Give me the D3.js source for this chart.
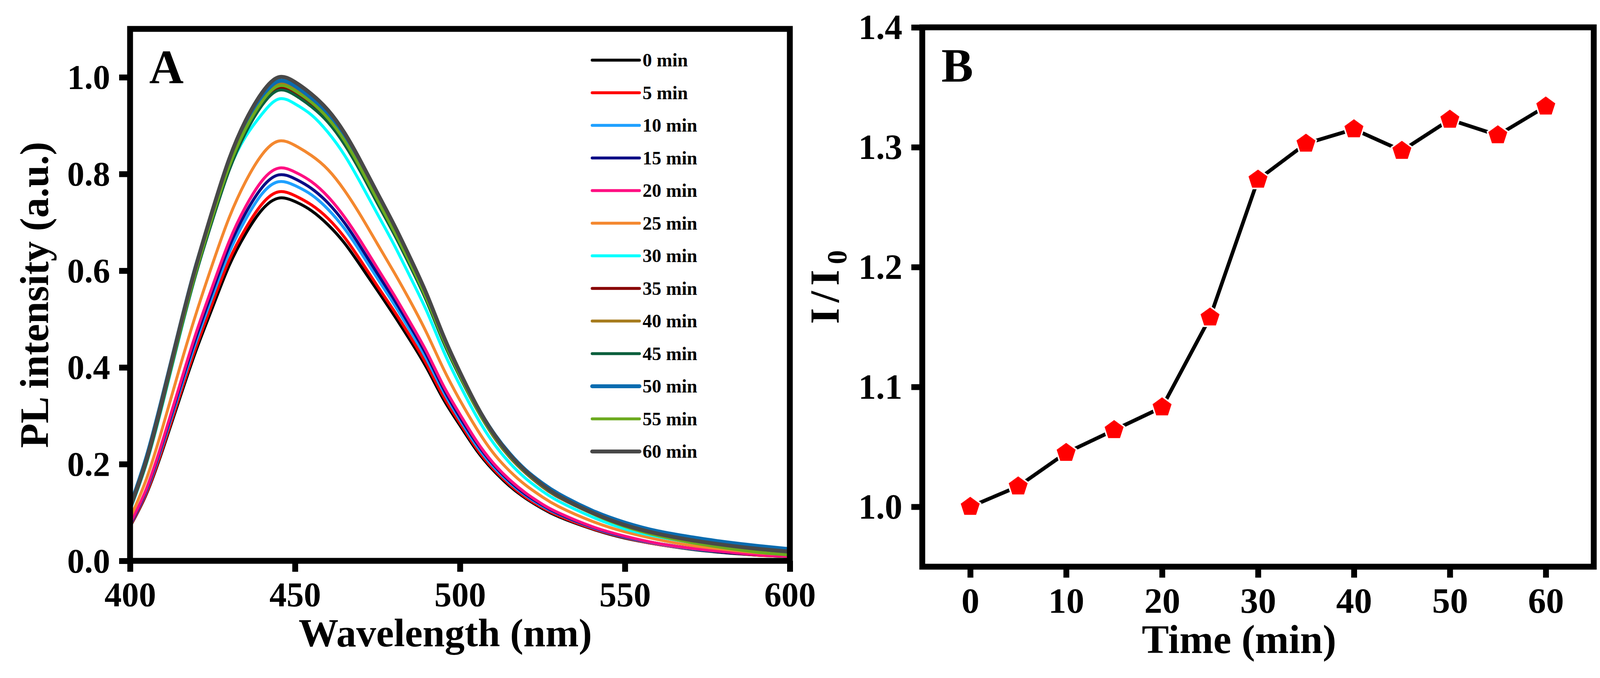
<!DOCTYPE html>
<html>
<head>
<meta charset="utf-8">
<script src="https://cdn.jsdelivr.net/npm/d3@7"></script>
<style>
  body { margin: 0; background: #fff; }
  svg text { font-family: "Liberation Serif", "Times New Roman", serif; font-weight: bold; fill: #000; }
</style>
</head>
<body>
<svg id="fig" width="4136" height="1736"></svg>
<script>
// ---- panel A: PL spectra ----
const wavelengths = [400, 405, 410, 415, 420, 425, 430, 435, 440, 445, 450, 455, 460, 465, 470, 475, 480,
  485, 490, 495, 500, 505, 510, 515, 520, 525, 530, 540, 550, 560, 570, 580, 590, 600];

const pl0 = [0.071, 0.139, 0.232, 0.335, 0.435, 0.524, 0.610, 0.676, 0.726, 0.750, 0.743, 0.724, 0.695, 0.657, 0.609, 0.559, 0.508,
  0.455, 0.398, 0.334, 0.280, 0.229, 0.188, 0.155, 0.129, 0.108, 0.091, 0.066, 0.047, 0.034, 0.024, 0.017, 0.012, 0.009];
const pl5 = [0.072, 0.141, 0.236, 0.341, 0.442, 0.534, 0.621, 0.687, 0.738, 0.763, 0.755, 0.736, 0.708, 0.669, 0.620, 0.568, 0.517,
  0.463, 0.405, 0.340, 0.285, 0.233, 0.191, 0.158, 0.131, 0.110, 0.093, 0.067, 0.048, 0.034, 0.025, 0.018, 0.012, 0.009];
const pl10 = [0.074, 0.145, 0.243, 0.350, 0.454, 0.548, 0.637, 0.706, 0.759, 0.784, 0.776, 0.757, 0.727, 0.687, 0.637, 0.584, 0.531,
  0.475, 0.416, 0.350, 0.292, 0.239, 0.196, 0.162, 0.135, 0.113, 0.096, 0.069, 0.049, 0.035, 0.025, 0.018, 0.013, 0.009];
const pl15 = [0.075, 0.147, 0.247, 0.356, 0.462, 0.558, 0.649, 0.719, 0.772, 0.798, 0.790, 0.770, 0.740, 0.699, 0.648, 0.594, 0.541,
  0.484, 0.424, 0.356, 0.297, 0.244, 0.200, 0.165, 0.137, 0.115, 0.097, 0.070, 0.050, 0.036, 0.026, 0.018, 0.013, 0.009];
const pl20 = [0.077, 0.150, 0.251, 0.362, 0.471, 0.568, 0.660, 0.732, 0.786, 0.812, 0.804, 0.784, 0.753, 0.711, 0.660, 0.605, 0.550,
  0.492, 0.431, 0.362, 0.303, 0.248, 0.203, 0.168, 0.140, 0.117, 0.099, 0.071, 0.051, 0.036, 0.026, 0.019, 0.013, 0.009];
const pl25 = [0.088, 0.170, 0.279, 0.398, 0.511, 0.614, 0.709, 0.784, 0.840, 0.868, 0.859, 0.838, 0.809, 0.766, 0.713, 0.655, 0.597,
  0.536, 0.470, 0.397, 0.332, 0.274, 0.224, 0.186, 0.156, 0.132, 0.112, 0.082, 0.060, 0.044, 0.032, 0.024, 0.017, 0.013];
const pl30 = [0.105, 0.202, 0.328, 0.465, 0.594, 0.706, 0.808, 0.877, 0.924, 0.955, 0.945, 0.922, 0.886, 0.839, 0.780, 0.717, 0.654,
  0.586, 0.515, 0.434, 0.363, 0.299, 0.245, 0.203, 0.170, 0.144, 0.123, 0.091, 0.066, 0.050, 0.038, 0.028, 0.021, 0.016];
const pl35 = [0.107, 0.205, 0.332, 0.469, 0.596, 0.708, 0.811, 0.889, 0.945, 0.977, 0.967, 0.943, 0.911, 0.865, 0.806, 0.743, 0.679,
  0.611, 0.537, 0.454, 0.381, 0.315, 0.259, 0.215, 0.181, 0.153, 0.131, 0.098, 0.072, 0.055, 0.042, 0.032, 0.024, 0.018];
const pl40 = [0.108, 0.207, 0.335, 0.473, 0.601, 0.715, 0.818, 0.897, 0.954, 0.986, 0.976, 0.951, 0.919, 0.873, 0.813, 0.749, 0.685,
  0.616, 0.542, 0.458, 0.385, 0.318, 0.261, 0.217, 0.182, 0.155, 0.132, 0.099, 0.073, 0.055, 0.042, 0.032, 0.024, 0.018];
const pl45 = [0.107, 0.204, 0.331, 0.467, 0.594, 0.705, 0.807, 0.885, 0.942, 0.973, 0.963, 0.939, 0.907, 0.861, 0.803, 0.739, 0.676,
  0.608, 0.535, 0.452, 0.380, 0.315, 0.260, 0.217, 0.184, 0.157, 0.135, 0.102, 0.077, 0.060, 0.048, 0.038, 0.030, 0.024];
const pl50 = [0.113, 0.215, 0.344, 0.481, 0.611, 0.719, 0.823, 0.903, 0.960, 0.992, 0.982, 0.957, 0.925, 0.878, 0.818, 0.754, 0.689,
  0.620, 0.546, 0.461, 0.387, 0.321, 0.266, 0.222, 0.187, 0.160, 0.138, 0.104, 0.079, 0.061, 0.049, 0.039, 0.031, 0.024];
const pl55 = [0.108, 0.206, 0.334, 0.471, 0.599, 0.712, 0.815, 0.893, 0.950, 0.982, 0.972, 0.948, 0.915, 0.869, 0.810, 0.746, 0.682,
  0.614, 0.540, 0.457, 0.383, 0.316, 0.260, 0.216, 0.182, 0.154, 0.132, 0.098, 0.071, 0.052, 0.038, 0.027, 0.018, 0.012];
const pl60 = [0.110, 0.210, 0.340, 0.480, 0.610, 0.725, 0.830, 0.910, 0.968, 1.000, 0.990, 0.965, 0.932, 0.885, 0.825, 0.760, 0.695,
  0.625, 0.550, 0.465, 0.390, 0.322, 0.265, 0.220, 0.185, 0.157, 0.134, 0.100, 0.074, 0.056, 0.043, 0.033, 0.025, 0.019];

const spectra = [pl0, pl5, pl10, pl15, pl20, pl25, pl30, pl35, pl40, pl45, pl50, pl55, pl60];
const legendLabels = ["0 min", "5 min", "10 min", "15 min", "20 min", "25 min", "30 min",
  "35 min", "40 min", "45 min", "50 min", "55 min", "60 min"];
const seriesColors = ["#000000", "#ff0000", "#1ea0ff", "#0b0b85", "#ff0f82", "#f4882f", "#00ffff",
  "#880000", "#a67b1d", "#0b5f3d", "#0a6cb0", "#6caa1e", "#484848"];
const wavelengthTicks = [400, 450, 500, 550, 600];
const intensityTicks = [0.0, 0.2, 0.4, 0.6, 0.8, 1.0];

// ---- panel B: I/I0 vs time ----
const timeMin = [0, 5, 10, 15, 20, 25, 30, 35, 40, 45, 50, 55, 60];
const ratioI = [1.000, 1.017, 1.045, 1.064, 1.083, 1.158, 1.273, 1.303, 1.315, 1.297, 1.323, 1.310, 1.334];
const timeTicks = [0, 10, 20, 30, 40, 50, 60];
const ratioTicks = [1.0, 1.1, 1.2, 1.3, 1.4];

const svg = d3.select("#fig");
svg.append("rect").attr("width", 4136).attr("height", 1736).attr("fill", "#fff");

const frameWidth = 15;

function styleAxis(g, size) {
  g.select(".domain").remove();
  g.selectAll(".tick line").attr("stroke", "#000").attr("stroke-width", frameWidth);
  g.selectAll(".tick text")
    .attr("fill", "#000")
    .style("font-family", "'Liberation Serif', 'Times New Roman', serif")
    .style("font-weight", "bold")
    .style("font-size", size + "px");
}

// ================= panel A =================
const xA = d3.scaleLinear().domain([400, 600]).range([333, 2022]);
const yA = d3.scaleLinear().domain([0, 1.1]).range([1436, 74]);

const plLine = d3.line()
  .x((d, i) => xA(wavelengths[i]))
  .y(d => yA(d))
  .curve(d3.curveNatural);

const panelA = svg.append("g");

panelA.selectAll("path.spectrum")
  .data(spectra)
  .enter()
  .append("path")
  .attr("class", "spectrum")
  .attr("d", d => plLine(d))
  .attr("fill", "none")
  .attr("stroke", (d, i) => seriesColors[i])
  .attr("stroke-width", (d, i) => (i === 10 || i === 12) ? 10 : 7.5)
  .attr("stroke-linejoin", "round");

panelA.append("rect")
  .attr("x", xA(400)).attr("y", yA(1.1))
  .attr("width", xA(600) - xA(400)).attr("height", yA(0) - yA(1.1))
  .attr("fill", "none").attr("stroke", "#000").attr("stroke-width", frameWidth);

const axAx = panelA.append("g")
  .attr("transform", `translate(0,${yA(0)})`)
  .call(d3.axisBottom(xA).tickValues(wavelengthTicks).tickSize(28).tickSizeOuter(0).tickFormat(d3.format("d")));
styleAxis(axAx, 88);
axAx.selectAll(".tick text").attr("y", 116).attr("dy", 0);

const ayA = panelA.append("g")
  .attr("transform", `translate(${xA(400)},0)`)
  .call(d3.axisLeft(yA).tickValues(intensityTicks).tickSize(28).tickPadding(23).tickSizeOuter(0).tickFormat(d3.format(".1f")));
styleAxis(ayA, 88);
ayA.selectAll(".tick text").attr("dy", "0.33em");

panelA.append("text")
  .attr("x", 1140).attr("y", 1655)
  .attr("text-anchor", "middle")
  .style("font-size", "102px")
  .text("Wavelength (nm)");

panelA.append("text")
  .attr("transform", `translate(123,${(yA(0) + yA(1.1)) / 2}) rotate(-90)`)
  .attr("text-anchor", "middle")
  .style("font-size", "103px")
  .text("PL intensity (a.u.)");

panelA.append("text")
  .attr("x", 382).attr("y", 213)
  .style("font-size", "122px")
  .text("A");

// legend
const legend = panelA.append("g");
const legendRow = d3.scaleLinear().domain([0, 12]).range([154, 1156]);
const legendItem = legend.selectAll("g")
  .data(legendLabels)
  .enter()
  .append("g")
  .attr("transform", (d, i) => `translate(0,${legendRow(i)})`);

legendItem.append("line")
  .attr("x1", 1516).attr("x2", 1637)
  .attr("stroke", (d, i) => seriesColors[i])
  .attr("stroke-width", (d, i) => (i === 10 || i === 12) ? 10 : 7.5)
  .attr("stroke-linecap", "round");

legendItem.append("text")
  .attr("x", 1645).attr("dy", "0.34em")
  .style("font-size", "48px")
  .text(d => d);

// ================= panel B =================
const xB = d3.scaleLinear().domain([-5, 65]).range([2361, 4080]);
const yB = d3.scaleLinear().domain([0.95, 1.4]).range([1451, 70]);

const panelB = svg.append("g");

const ratioLine = d3.line()
  .x((d, i) => xB(timeMin[i]))
  .y(d => yB(d));

panelB.append("path")
  .attr("d", ratioLine(ratioI))
  .attr("fill", "none")
  .attr("stroke", "#000")
  .attr("stroke-width", 9.5)
  .attr("stroke-linejoin", "round");

// regular pentagon, apex up
const pentagon = {
  draw(context, size) {
    const r = Math.sqrt(size / 2.3776);
    for (let k = 0; k < 5; k++) {
      const a = -Math.PI / 2 + k * 2 * Math.PI / 5;
      if (k === 0) context.moveTo(r * Math.cos(a), r * Math.sin(a));
      else context.lineTo(r * Math.cos(a), r * Math.sin(a));
    }
    context.closePath();
  }
};

panelB.selectAll("path.marker")
  .data(ratioI)
  .enter()
  .append("path")
  .attr("class", "marker")
  .attr("d", d3.symbol().type(pentagon).size(1550))
  .attr("transform", (d, i) => `translate(${xB(timeMin[i])},${yB(d)})`)
  .attr("fill", "#ff0000")
  .attr("stroke", "#fff")
  .attr("stroke-width", 8)
  .style("paint-order", "stroke");

panelB.append("rect")
  .attr("x", xB(-5)).attr("y", yB(1.4))
  .attr("width", xB(65) - xB(-5)).attr("height", yB(0.95) - yB(1.4))
  .attr("fill", "none").attr("stroke", "#000").attr("stroke-width", frameWidth);

const axB = panelB.append("g")
  .attr("transform", `translate(0,${yB(0.95)})`)
  .call(d3.axisBottom(xB).tickValues(timeTicks).tickSize(28).tickSizeOuter(0).tickFormat(d3.format("d")));
styleAxis(axB, 92);
axB.selectAll(".tick text").attr("y", 118).attr("dy", 0);

const ayB = panelB.append("g")
  .attr("transform", `translate(${xB(-5)},0)`)
  .call(d3.axisLeft(yB).tickValues(ratioTicks).tickSize(28).tickPadding(23).tickSizeOuter(0).tickFormat(d3.format(".1f")));
styleAxis(ayB, 90);
ayB.selectAll(".tick text").attr("dy", "0.33em");

panelB.append("text")
  .attr("x", 2923).attr("y", 1672)
  .style("font-size", "104px")
  .text("Time (min)");

const yTitleB = panelB.append("text")
  .attr("transform", `translate(2147,728) rotate(-90)`)
  .attr("text-anchor", "middle")
  .style("font-size", "105px")
  .style("letter-spacing", "14px");
yTitleB.append("tspan").text("I/I");
yTitleB.append("tspan").attr("dy", 20).style("font-size", "72px").text("0");

panelB.append("text")
  .attr("x", 2410).attr("y", 209)
  .style("font-size", "122px")
  .text("B");
</script>
</body>
</html>
